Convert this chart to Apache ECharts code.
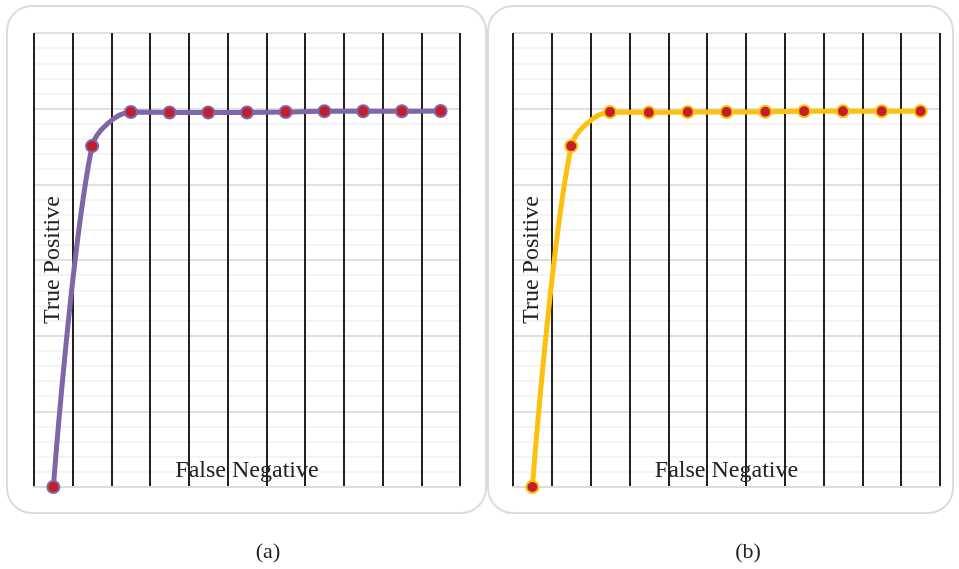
<!DOCTYPE html>
<html>
<head>
<meta charset="utf-8">
<script src="https://cdn.jsdelivr.net/npm/echarts@6/dist/echarts.min.js"></script>
<style>
html,body{margin:0;padding:0;background:#fff;}
#main{width:959px;height:569px;}
</style>
</head>
<body>
<div id="main"></div>
<script>
// Data
const categories = ['1','2','3','4','5','6','7','8','9','10','11'];
const seriesA = [0, 0.901, 0.991, 0.990, 0.990, 0.990, 0.991, 0.993, 0.993, 0.993, 0.994];
const seriesB = [0, 0.901, 0.991, 0.990, 0.991, 0.991, 0.992, 0.993, 0.993, 0.993, 0.993];
const xAxisName = 'False Negative';
const yAxisName = 'True Positive';
const captions = ['(a)', '(b)'];
const colorA = '#7f66a8';
const colorB = '#fcc10e';

const serif = '"Liberation Serif", "DejaVu Serif", serif';
const chart = echarts.init(document.getElementById('main'), null, {renderer: 'canvas'});

const grids = [
  {left: 34, top: 33, width: 426, height: 454},
  {left: 513, top: 33, width: 427, height: 454}
];

function xAx(i) {
  return {
    type: 'category', gridIndex: i, data: categories, boundaryGap: true,
    name: xAxisName, nameLocation: 'middle', nameGap: -28,
    nameTextStyle: {fontFamily: serif, fontSize: 24, color: '#222'},
    axisLine: {show: true, lineStyle: {color: '#dcdcdc', width: 2}},
    axisTick: {show: false}, axisLabel: {show: false},
    splitLine: {show: true, lineStyle: {color: '#222', width: 2}},
    z: 3
  };
}
function yMinor(i) {
  return {
    type: 'value', gridIndex: i, position: 'left', min: 0, max: 1.2, interval: 0.04,
    axisLine: {show: false}, axisTick: {show: false}, axisLabel: {show: false},
    splitLine: {show: true, lineStyle: {color: '#f0f0f0', width: 1.5}},
    z: 0
  };
}
function yAx(i) {
  return {
    type: 'value', gridIndex: i, position: 'left', min: 0, max: 1.2, interval: 0.2,
    name: yAxisName, nameLocation: 'middle', nameGap: -31, nameRotate: 90,
    nameTextStyle: {fontFamily: serif, fontSize: 24, color: '#222'},
    axisLine: {show: false}, axisTick: {show: false}, axisLabel: {show: false},
    splitLine: {show: true, lineStyle: {color: '#e0e0e0', width: 2}},
    z: 1
  };
}
function ser(i, data, color) {
  return {
    type: 'line', xAxisIndex: i, yAxisIndex: i * 2 + 1, data: data, smooth: 0.3,
    symbol: 'circle', symbolSize: 12,
    lineStyle: {color: color, width: 5},
    itemStyle: {color: '#c41e2a', borderColor: color, borderWidth: 2},
    z: 5
  };
}

chart.setOption({
  animation: false,
  backgroundColor: '#fff',
  grid: grids,
  xAxis: [xAx(0), xAx(1)],
  yAxis: [yMinor(0), yAx(0), yMinor(1), yAx(1)],
  series: [ser(0, seriesA, colorA), ser(1, seriesB, colorB)],
  graphic: [
    {type: 'rect', z: -10, shape: {x: 7, y: 6, width: 479, height: 507, r: 25},
     style: {fill: '#fff', stroke: '#dcdcdc', lineWidth: 2}},
    {type: 'rect', z: -10, shape: {x: 488, y: 6, width: 465, height: 507, r: 25},
     style: {fill: '#fff', stroke: '#dcdcdc', lineWidth: 2}},
    {type: 'text', x: 268, y: 552,
     style: {text: captions[0], font: '22px ' + serif, fill: '#222', align: 'center', verticalAlign: 'middle'}},
    {type: 'text', x: 748, y: 552,
     style: {text: captions[1], font: '22px ' + serif, fill: '#222', align: 'center', verticalAlign: 'middle'}}
  ]
});
</script>
</body>
</html>
